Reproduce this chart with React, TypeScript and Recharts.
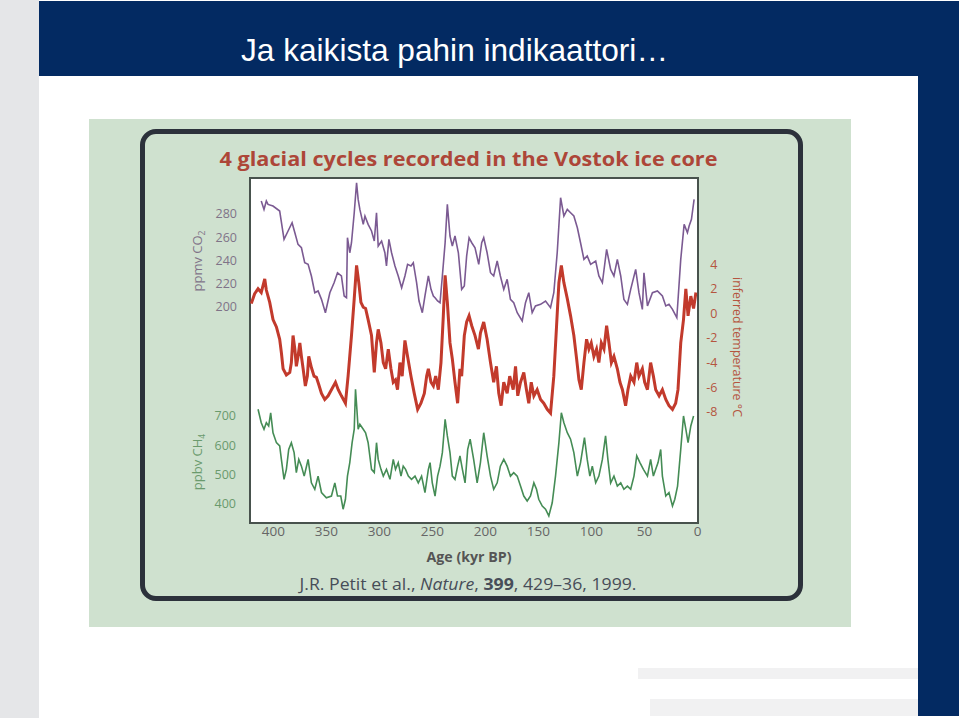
import React from "react";
import { ComposedChart, Line, XAxis, YAxis } from "recharts";

// ---------- data ----------
const ageTicks = [0, 50, 100, 150, 200, 250, 300, 350, 400];
const co2Ticks = [200, 220, 240, 260, 280];
const ch4Ticks = [400, 500, 600, 700];
const tempTicks = [-8, -6, -4, -2, 0, 2, 4];

const co2Age = [411.4,408.8,406.6,405.0,400.3,394.0,389.9,386.1,382.3,379.7,376.7,373.5,370.4,367.2,364.1,360.9,357.8,354.6,350.9,346.7,342.7,339.5,335.8,333.2,331.0,330.1,327.9,326.3,323.7,321.5,320.0,318.4,315.2,313.6,310.6,307.4,304.8,302.7,301.1,297.9,294.8,293.3,291.0,288.5,285.3,282.2,279.0,275.9,273.4,270.2,268.0,264.9,262.6,259.5,257.0,253.8,251.3,249.1,247.5,245.1,242.8,240.6,238.0,235.9,233.4,231.2,228.7,225.5,222.4,219.9,217.7,215.4,212.9,209.8,206.3,203.5,201.6,198.4,195.2,192.2,188.9,185.9,182.7,179.5,176.4,173.3,170.0,165.3,162.2,159.1,155.9,152.8,148.0,143.3,138.6,135.5,132.3,129.1,126.0,122.8,119.7,116.6,113.3,110.3,107.1,104.0,100.8,96.0,93.0,89.7,85.7,81.9,78.8,75.6,72.4,69.4,66.1,63.0,58.3,55.2,52.0,50.5,47.2,42.5,37.8,33.1,29.9,26.9,23.6,19.5,15.8,12.6,9.5,7.9,5.7,3.2];
const co2Ppmv = [291.2,284.0,291.2,288.3,286.9,282.6,258.2,265.4,272.5,263.9,253.9,251.0,238.1,236.7,226.7,212.3,213.8,206.6,195.1,212.3,220.9,229.5,226.7,209.5,208.0,259.6,246.7,255.3,281.1,306.9,292.6,284.0,271.1,278.3,271.1,265.4,256.8,281.1,252.5,256.8,246.7,235.3,258.2,246.7,235.3,226.7,216.6,226.7,236.7,235.3,238.1,220.9,205.2,195.1,209.5,226.7,215.2,209.5,208.0,205.2,203.7,226.7,255.3,288.3,261.1,252.5,261.1,246.7,215.2,218.1,243.9,259.6,255.3,251.0,236.7,255.3,259.6,246.7,229.5,226.7,239.6,226.7,215.2,223.8,206.6,203.7,195.1,188.0,203.7,212.3,195.1,200.9,202.3,205.2,199.4,212.3,246.7,294.0,278.3,284.0,281.1,278.3,268.2,255.3,241.0,243.9,236.7,239.6,226.7,220.9,249.6,232.4,226.7,241.0,226.7,206.6,202.3,215.2,232.4,212.3,198.0,229.5,200.9,212.3,213.8,209.5,200.9,202.3,198.0,190.8,241.0,271.1,263.9,269.7,275.4,292.6];

const tempAge = [420.8,417.6,414.4,411.4,408.1,406.6,403.4,400.3,397.1,394.0,392.4,390.8,387.7,384.5,383.0,381.4,379.7,378.3,376.7,375.0,373.5,371.9,369.8,367.9,366.6,364.1,361.6,359.4,357.1,354.6,351.5,348.3,345.2,341.4,338.8,335.8,332.0,329.5,326.3,323.7,321.5,319.4,317.4,315.2,313.0,310.6,307.4,304.8,302.7,301.1,298.5,296.3,294.1,291.6,289.1,286.9,284.8,282.9,280.6,278.5,275.9,273.4,270.2,267.1,263.9,260.8,257.6,255.4,253.8,251.3,249.1,246.9,244.4,241.9,239.7,238.0,235.9,233.4,231.2,228.7,226.2,224.0,222.4,219.9,217.7,215.4,212.9,209.8,206.6,204.7,201.6,198.4,195.2,192.2,189.6,187.4,185.2,182.7,179.5,177.1,173.8,171.6,169.5,166.9,163.8,161.3,159.1,156.8,154.3,151.2,148.0,145.0,141.7,138.6,135.5,132.9,130.7,128.4,126.0,122.8,119.7,116.6,114.0,111.8,109.6,107.1,104.6,102.4,100.2,97.7,95.2,93.0,90.7,88.2,85.7,83.5,81.2,78.8,75.6,73.1,70.8,67.8,65.6,63.0,59.9,57.3,55.2,52.0,49.8,47.2,44.2,41.6,39.4,36.2,33.1,29.9,26.9,23.6,20.6,18.4,15.8,13.2,11.0,8.9,6.3,3.7,1.5];
const tempC = [0.8,1.6,2.0,1.7,2.8,1.9,0.9,-0.5,-1.1,-2.1,-3.2,-4.5,-5.0,-4.8,-4.0,-1.8,-2.9,-4.3,-3.5,-2.4,-3.5,-4.5,-5.9,-5.1,-3.5,-4.4,-5.1,-5.2,-5.8,-6.5,-7.0,-6.7,-6.2,-5.6,-6.2,-6.7,-7.3,-5.1,-1.8,1.2,3.9,2.5,0.9,0.5,0.4,-0.5,-1.8,-4.8,-2.4,-1.3,-2.4,-4.0,-4.5,-2.9,-4.5,-5.6,-5.4,-6.2,-4.0,-5.1,-2.2,-3.5,-5.1,-6.5,-7.8,-7.3,-6.5,-5.1,-4.5,-5.6,-5.9,-5.1,-6.2,-4.0,-0.2,3.1,0.9,-2.4,-3.7,-5.6,-7.3,-4.5,-5.1,-1.8,-0.7,-0.2,-1.0,-1.8,-2.9,-1.6,-0.7,-2.1,-4.0,-5.6,-4.3,-6.5,-7.5,-5.6,-6.5,-5.1,-6.2,-4.3,-6.7,-5.6,-4.8,-6.2,-7.3,-5.6,-6.7,-6.2,-7.0,-7.3,-7.8,-8.1,-5.1,-1.0,2.5,3.9,2.5,1.2,-0.2,-1.8,-3.7,-5.4,-6.2,-4.0,-2.1,-2.9,-2.4,-3.5,-2.9,-4.0,-2.4,-2.9,-1.0,-2.4,-4.0,-3.5,-4.5,-5.6,-6.2,-7.5,-6.2,-5.1,-5.6,-4.0,-5.1,-4.5,-5.6,-6.2,-4.0,-5.1,-6.2,-6.7,-6.2,-7.0,-7.5,-7.8,-7.3,-6.2,-2.4,-0.5,2.0,-0.2,1.4,0.4,1.7];

const ch4Age = [414.4,411.4,408.8,406.6,404.4,402.5,400.3,397.1,394.0,392.4,389.9,387.7,385.5,383.0,380.4,378.3,376.0,373.5,370.9,368.8,367.2,364.1,360.9,357.8,354.6,350.0,345.2,342.0,339.5,336.4,334.2,332.0,330.1,327.9,325.7,323.7,322.5,321.2,320.0,318.4,315.2,313.0,310.6,307.4,304.8,302.7,301.1,298.5,296.3,293.3,290.0,286.9,284.8,282.2,279.6,277.5,275.3,272.7,269.7,266.4,263.3,260.2,257.0,253.8,252.2,250.1,247.5,245.1,242.8,240.6,238.0,235.9,233.4,231.2,228.7,226.2,224.0,221.7,219.2,216.7,214.4,211.1,207.8,204.7,201.6,198.4,195.2,192.2,188.9,185.9,182.7,179.5,176.4,173.3,170.0,166.9,163.8,160.6,157.5,154.3,151.8,149.7,146.4,143.3,140.2,137.0,133.9,130.7,128.4,126.0,122.8,119.7,116.6,113.3,110.3,106.6,104.0,101.5,99.2,96.0,93.0,89.7,86.7,84.5,81.9,78.8,75.6,72.4,69.4,66.1,63.0,59.9,57.3,54.3,51.0,47.2,44.2,41.6,39.4,37.2,34.7,33.1,29.9,26.9,23.6,21.4,18.8,15.8,13.2,11.0,8.9,6.3,3.7];
const ch4Ppbv = [723,677,655,677,666,711,643,609,598,552,484,518,586,609,575,507,552,529,495,527,552,472,450,495,439,421,427,472,427,427,382,416,495,541,609,655,791,723,655,672,655,643,609,518,507,609,552,518,495,518,484,552,518,541,495,529,518,495,484,495,472,495,439,518,541,472,427,495,529,575,689,632,575,495,484,529,564,518,472,586,621,552,472,541,643,564,495,450,472,529,552,529,495,507,495,461,427,410,427,472,450,416,393,382,359,404,495,609,711,677,643,621,575,495,541,626,552,495,529,472,495,552,632,552,472,495,461,472,450,461,450,495,564,541,518,495,552,495,518,541,586,495,427,439,393,416,461,586,700,655,609,666,700];

// ---------- styling ----------
const FONT = "'Open Sans', 'DejaVu Sans', sans-serif";
const NAVY = "#032a62";
const CO2_COLOR = "#7b5a92";
const TEMP_COLOR = "#c23a2c";
const CH4_COLOR = "#458c55";
const CO2_TEXT = "#7f7388";
const CH4_TEXT = "#6a9a6d";
const TEMP_TEXT = "#b5553f";

const co2Data = co2Age.map((a, i) => ({ age: a, value: co2Ppmv[i] }));
const tempData = tempAge.map((a, i) => ({ age: a, value: tempC[i] }));
const ch4Data = ch4Age.map((a, i) => ({ age: a, value: ch4Ppbv[i] }));

const TempTick = (props: any) => {
  const { x, y, payload } = props;
  return (
    <text x={x + 20} y={y} dy="0.355em" textAnchor="end" fill={TEMP_TEXT} fontSize={12.5} fontFamily={FONT}>
      {payload.value}
    </text>
  );
};

export default function App() {
  return (
    <div style={{ position: "absolute", left: 0, top: 0, width: 959, height: 718, background: "#ffffff", overflow: "hidden" }}>
      {/* slide frame */}
      <div style={{ position: "absolute", left: 0, top: 0, width: 39, height: 718, background: "#e5e6e8" }} />
      <div style={{ position: "absolute", left: 39, top: 1, width: 920, height: 75, background: NAVY }} />
      <div style={{ position: "absolute", left: 918, top: 1, width: 41, height: 715, background: NAVY }} />
      <div style={{ position: "absolute", left: 638, top: 668, width: 280, height: 11, background: "#f1f1f2" }} />
      <div style={{ position: "absolute", left: 650, top: 699, width: 268, height: 17, background: "#f1f1f2" }} />
      {/* scanned figure background */}
      <div style={{ position: "absolute", left: 89, top: 119, width: 762, height: 508, background: "#cfe1cf" }} />
      <div style={{ position: "absolute", left: 140, top: 129, width: 663, height: 472, boxSizing: "border-box", border: "5px solid #2c313b", borderRadius: 16 }} />
      {/* plot area */}
      <div style={{ position: "absolute", left: 249, top: 177, width: 450, height: 347, boxSizing: "border-box", background: "#ffffff", border: "2px solid #48524d" }} />

      <div style={{ position: "absolute", left: 140, top: 129 }}>
        <ComposedChart width={663} height={473} margin={{ top: 49, right: 104.5, bottom: 78, left: 108 }}>
          <XAxis
            dataKey="age"
            type="number"
            domain={[0, 422]}
            reversed
            allowDataOverflow
            ticks={ageTicks}
            interval={0}
            height={1}
            tickLine={false}
            axisLine={false}
            tickSize={0}
            tickMargin={3}
            tick={{ fill: "#666666", fontSize: 13.5, fontFamily: FONT }}
          />
          <YAxis
            yAxisId="co2"
            orientation="left"
            type="number"
            domain={[14.2, 311]}
            allowDataOverflow
            ticks={co2Ticks}
            interval={0}
            width={1}
            tickLine={false}
            axisLine={false}
            tickSize={0}
            tickMargin={12}
            tick={{ fill: CO2_TEXT, fontSize: 12.5, fontFamily: FONT }}
          />
          <YAxis
            yAxisId="ch4"
            orientation="left"
            type="number"
            domain={[335, 1512]}
            allowDataOverflow
            ticks={ch4Ticks}
            interval={0}
            width={1}
            tickLine={false}
            axisLine={false}
            tickSize={0}
            tickMargin={14}
            tick={{ fill: CH4_TEXT, fontSize: 12.5, fontFamily: FONT }}
          />
          <YAxis
            yAxisId="temp"
            orientation="right"
            type="number"
            domain={[-17.04, 11.01]}
            allowDataOverflow
            ticks={tempTicks}
            interval={0}
            width={1}
            tickLine={false}
            axisLine={false}
            tickSize={0}
            tickMargin={0}
            tick={TempTick}
          />
          <Line yAxisId="co2" data={co2Data} dataKey="value" type="linear" stroke={CO2_COLOR} strokeWidth={1.6} dot={false} activeDot={false} isAnimationActive={false} />
          <Line yAxisId="temp" data={tempData} dataKey="value" type="linear" stroke={TEMP_COLOR} strokeWidth={3} dot={false} activeDot={false} isAnimationActive={false} />
          <Line yAxisId="ch4" data={ch4Data} dataKey="value" type="linear" stroke={CH4_COLOR} strokeWidth={1.6} dot={false} activeDot={false} isAnimationActive={false} />
        </ComposedChart>
      </div>

      {/* texts */}
      <svg width={959} height={718} style={{ position: "absolute", left: 0, top: 0, pointerEvents: "none" }}>
        <text x={241} y={61} fill="#ffffff" fontSize={32} fontFamily="'Liberation Sans', Arial, sans-serif" textLength={427} lengthAdjust="spacingAndGlyphs">
          Ja kaikista pahin indikaattori…
        </text>
        <text x={468.5} y={166} textAnchor="middle" fill="#ad4638" fontSize={19} fontWeight="bold" fontFamily={FONT} textLength={498} lengthAdjust="spacingAndGlyphs">
          4 glacial cycles recorded in the Vostok ice core
        </text>
        <text transform="translate(201.5,261) rotate(-90)" textAnchor="middle" fill={CO2_TEXT} fontSize={13} fontFamily={FONT}>
          ppmv CO<tspan fontSize={8.5} dy={3}>2</tspan>
        </text>
        <text transform="translate(201.5,462) rotate(-90)" textAnchor="middle" fill={CH4_TEXT} fontSize={13} fontFamily={FONT}>
          ppbv CH<tspan fontSize={8.5} dy={3}>4</tspan>
        </text>
        <text transform="translate(732.5,347) rotate(90)" textAnchor="middle" fill={TEMP_TEXT} fontSize={13} fontFamily={FONT} textLength={140} lengthAdjust="spacingAndGlyphs">
          inferred temperature °C
        </text>
        <text x={469} y={561.5} textAnchor="middle" fill="#555555" fontSize={13.5} fontWeight="bold" fontFamily={FONT} textLength={85} lengthAdjust="spacingAndGlyphs">
          Age (kyr BP)
        </text>
        <text x={468} y={590} textAnchor="middle" fill="#474d58" fontSize={16.5} fontFamily={FONT} textLength={337} lengthAdjust="spacingAndGlyphs">
          J.R. Petit et al., <tspan fontStyle="italic">Nature</tspan>, <tspan fontWeight="bold">399</tspan>, 429–36, 1999.
        </text>
      </svg>
    </div>
  );
}
